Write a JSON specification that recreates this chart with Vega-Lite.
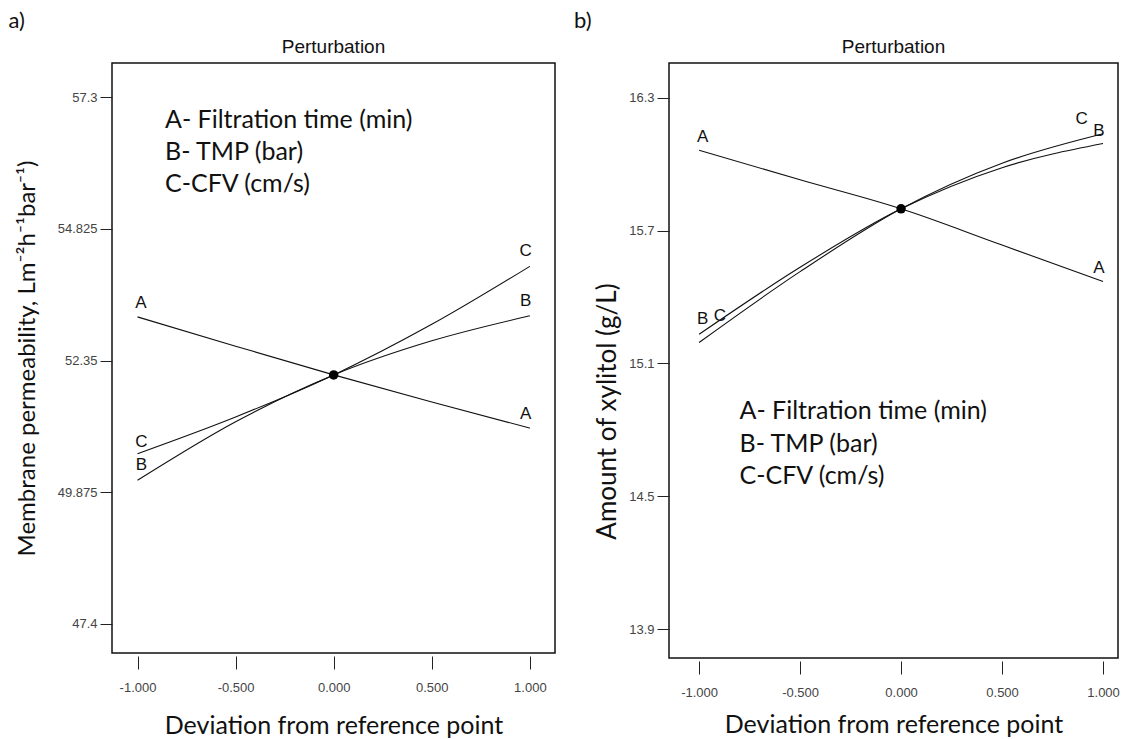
{
  "$schema": "https://vega.github.io/schema/vega-lite/v6.json",
  "background": "white",
  "padding": {"left": 8, "top": 10, "right": 0, "bottom": 0},
  "config": {
    "view": {"stroke": "#111", "strokeWidth": 1.5},
    "axis": {
      "domain": false, "grid": false,
      "labelFont": "Liberation Sans", "labelFontSize": 13, "labelColor": "#444",
      "tickColor": "#222", "tickWidth": 1,
      "titleFont": "Lato", "titleFontSize": 26, "titleFontWeight": "normal", "titleColor": "#111"
    },
    "title": {"font": "Liberation Sans", "fontSize": 19, "fontWeight": "normal", "color": "#111"},
    "concat": {"spacing": 17}
  },
  "datasets": {
    "linesA": [
      {"factor": "A", "x": -1, "y": 53.17}, {"factor": "A", "x": -0.5, "y": 52.62}, {"factor": "A", "x": 0, "y": 52.08}, {"factor": "A", "x": 0.5, "y": 51.57}, {"factor": "A", "x": 1, "y": 51.08},
      {"factor": "B", "x": -1, "y": 50.10}, {"factor": "B", "x": -0.5, "y": 51.20}, {"factor": "B", "x": 0, "y": 52.08}, {"factor": "B", "x": 0.5, "y": 52.72}, {"factor": "B", "x": 1, "y": 53.19},
      {"factor": "C", "x": -1, "y": 50.60}, {"factor": "C", "x": -0.5, "y": 51.29}, {"factor": "C", "x": 0, "y": 52.08}, {"factor": "C", "x": 0.5, "y": 53.03}, {"factor": "C", "x": 1, "y": 54.12}
    ],
    "centerA": [{"x": 0, "y": 52.08}],
    "labelsA": [
      {"text": "A", "x": -0.983, "y": 53.43}, {"text": "A", "x": 0.978, "y": 51.35},
      {"text": "B", "x": 0.978, "y": 53.46}, {"text": "C", "x": 0.978, "y": 54.41},
      {"text": "C", "x": -0.98, "y": 50.81}, {"text": "B", "x": -0.98, "y": 50.38}
    ],
    "keyA": [
      {"text": "A- Filtration time (min)", "x": -0.86, "y": 56.87},
      {"text": "B- TMP (bar)", "x": -0.86, "y": 56.27},
      {"text": "C-CFV (cm/s)", "x": -0.86, "y": 55.67}
    ],
    "linesB": [
      {"factor": "A", "x": -1, "y": 16.064}, {"factor": "A", "x": -0.5, "y": 15.93}, {"factor": "A", "x": 0, "y": 15.799}, {"factor": "A", "x": 0.5, "y": 15.635}, {"factor": "A", "x": 1, "y": 15.471},
      {"factor": "B", "x": -1, "y": 15.232}, {"factor": "B", "x": -0.5, "y": 15.535}, {"factor": "B", "x": 0, "y": 15.799}, {"factor": "B", "x": 0.5, "y": 15.985}, {"factor": "B", "x": 1, "y": 16.094},
      {"factor": "C", "x": -1, "y": 15.195}, {"factor": "C", "x": -0.5, "y": 15.515}, {"factor": "C", "x": 0, "y": 15.799}, {"factor": "C", "x": 0.5, "y": 16.005}, {"factor": "C", "x": 1, "y": 16.138}
    ],
    "centerB": [{"x": 0, "y": 15.799}],
    "labelsB": [
      {"text": "A", "x": -0.982, "y": 16.125}, {"text": "A", "x": 0.98, "y": 15.532},
      {"text": "C", "x": 0.894, "y": 16.204}, {"text": "B", "x": 0.98, "y": 16.152},
      {"text": "B", "x": -0.982, "y": 15.30}, {"text": "C", "x": -0.897, "y": 15.314}
    ],
    "keyB": [
      {"text": "A- Filtration time (min)", "x": -0.8, "y": 14.886},
      {"text": "B- TMP (bar)", "x": -0.8, "y": 14.738},
      {"text": "C-CFV (cm/s)", "x": -0.8, "y": 14.593}
    ]
  },
  "hconcat": [
    {
      "title": {"text": "a)", "anchor": "start", "frame": "bounds", "font": "Lato", "fontSize": 22, "dx": -6, "offset": 4},
      "vconcat": [
        {
          "width": 443, "height": 590,
          "title": {"text": "Perturbation", "offset": 6},
          "encoding": {
            "x": {"field": "x", "type": "quantitative",
              "scale": {"domain": [-1.13, 1.128], "nice": false, "zero": false},
              "axis": {"values": [-1, -0.5, 0, 0.5, 1], "format": ".3f", "labelExpr": "replace(datum.label, '\u2212', '-')",
                "tickSize": 13, "offset": 3, "labelPadding": 12, "title": "Deviation from reference point", "titleFontSize": 25, "titlePadding": 19}},
            "y": {"field": "y", "type": "quantitative",
              "scale": {"domain": [46.855, 57.94], "nice": false, "zero": false},
              "axis": {"values": [47.4, 49.875, 52.35, 54.825, 57.3], "labelExpr": "'' + datum.value",
                "tickSize": 12, "labelPadding": 3, "title": "Membrane permeability, Lm\u207B\u00B2h\u207B\u00B9bar\u207B\u00B9)", "titleFontSize": 24, "titlePadding": 18}}
          },
          "layer": [
            {"data": {"name": "linesA"}, "mark": {"type": "line", "color": "#111", "strokeWidth": 1.1, "interpolate": "monotone"},
              "encoding": {"detail": {"field": "factor"}}},
            {"data": {"name": "centerA"}, "mark": {"type": "point", "filled": true, "color": "black", "opacity": 1, "size": 90}},
            {"data": {"name": "labelsA"}, "mark": {"type": "text", "font": "Liberation Sans", "fontSize": 17, "color": "#111", "baseline": "middle", "align": "center"},
              "encoding": {"text": {"field": "text"}}},
            {"data": {"name": "keyA"}, "mark": {"type": "text", "font": "Lato", "fontSize": 25, "color": "#111", "baseline": "middle", "align": "left"},
              "encoding": {"text": {"field": "text"}}}
          ]
        }
      ]
    },
    {
      "title": {"text": "b)", "anchor": "start", "frame": "bounds", "font": "Lato", "fontSize": 22, "dx": -20, "offset": 4},
      "vconcat": [
        {
          "width": 449, "height": 595,
          "title": {"text": "Perturbation", "offset": 6},
          "encoding": {
            "x": {"field": "x", "type": "quantitative",
              "scale": {"domain": [-1.149, 1.074], "nice": false, "zero": false},
              "axis": {"values": [-1, -0.5, 0, 0.5, 1], "format": ".3f", "labelExpr": "replace(datum.label, '\u2212', '-')",
                "tickSize": 13, "offset": 3, "labelPadding": 12, "title": "Deviation from reference point", "titleFontSize": 25, "titlePadding": 13}},
            "y": {"field": "y", "type": "quantitative",
              "scale": {"domain": [13.769, 16.458], "nice": false, "zero": false},
              "axis": {"values": [13.9, 14.5, 15.1, 15.7, 16.3], "labelExpr": "'' + datum.value",
                "tickSize": 12, "labelPadding": 3, "title": "Amount of xylitol (g/L)", "titlePadding": 8, "titleY": 348}}
          },
          "layer": [
            {"data": {"name": "linesB"}, "mark": {"type": "line", "color": "#111", "strokeWidth": 1.1, "interpolate": "monotone"},
              "encoding": {"detail": {"field": "factor"}}},
            {"data": {"name": "centerB"}, "mark": {"type": "point", "filled": true, "color": "black", "opacity": 1, "size": 90}},
            {"data": {"name": "labelsB"}, "mark": {"type": "text", "font": "Liberation Sans", "fontSize": 17, "color": "#111", "baseline": "middle", "align": "center"},
              "encoding": {"text": {"field": "text"}}},
            {"data": {"name": "keyB"}, "mark": {"type": "text", "font": "Lato", "fontSize": 25, "color": "#111", "baseline": "middle", "align": "left"},
              "encoding": {"text": {"field": "text"}}}
          ]
        }
      ]
    }
  ]
}
